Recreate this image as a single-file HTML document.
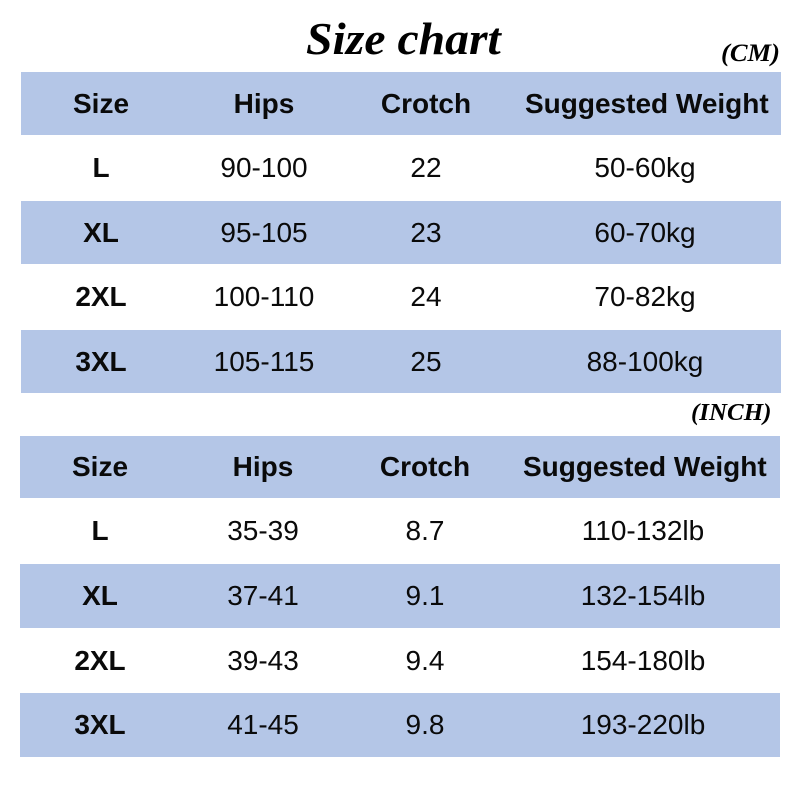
<!DOCTYPE html>
<html>
<head>
<meta charset="utf-8">
<style>
  html, body { margin:0; padding:0; background:#fff; }
  body { width:800px; height:800px; position:relative; overflow:hidden; font-family:"Liberation Sans", Arial, sans-serif; color:#0a0a0a; }
  .band { position:absolute; left:21px; width:760px; background:#b4c6e7; }
  .row { position:absolute; left:0; width:800px; }
  .c { position:absolute; top:0; width:240px; margin-left:-120px; text-align:center; font-size:28px; white-space:nowrap; }
  .b { font-weight:bold; }
  .hdr .c { font-weight:bold; }
  .script { position:absolute; font-family:"Liberation Serif", "DejaVu Serif", serif; font-style:italic; font-weight:bold; white-space:nowrap; color:#000; }
</style>
</head>
<body>
  <div class="script" style="left:306px; top:14px; font-size:45px; line-height:50px; transform:scaleX(1.06); transform-origin:left top;">Size chart</div>
  <div class="script" style="left:721px; top:40px; font-size:25px; line-height:28px; transform:scaleX(1.06); transform-origin:left top;">(CM)</div>
  <div class="script" style="left:691px; top:399px; font-size:24px; line-height:28px; transform:scaleX(1.04); transform-origin:left top;">(INCH)</div>

  <!-- top table bands -->
  <div class="band" style="top:72px; height:63px;"></div>
  <div class="band" style="top:201px; height:63px;"></div>
  <div class="band" style="top:330px; height:63px;"></div>
  <!-- bottom table bands -->
  <div class="band" style="left:20px; top:436px; height:62px;"></div>
  <div class="band" style="left:20px; top:564px; height:64px;"></div>
  <div class="band" style="left:20px; top:693px; height:64px;"></div>

  <!-- top table rows -->
  <div class="row hdr" style="top:72px; height:63px; line-height:63px;">
    <div class="c" style="left:101px;">Size</div>
    <div class="c" style="left:264px;">Hips</div>
    <div class="c" style="left:426px;">Crotch</div>
    <div class="c" style="left:645px;">Suggested Weight</div>
  </div>
  <div class="row" style="top:135px; height:66px; line-height:66px;">
    <div class="c b" style="left:101px;">L</div>
    <div class="c" style="left:264px;">90-100</div>
    <div class="c" style="left:426px;">22</div>
    <div class="c" style="left:645px;">50-60kg</div>
  </div>
  <div class="row" style="top:201px; height:63px; line-height:63px;">
    <div class="c b" style="left:101px;">XL</div>
    <div class="c" style="left:264px;">95-105</div>
    <div class="c" style="left:426px;">23</div>
    <div class="c" style="left:645px;">60-70kg</div>
  </div>
  <div class="row" style="top:264px; height:66px; line-height:66px;">
    <div class="c b" style="left:101px;">2XL</div>
    <div class="c" style="left:264px;">100-110</div>
    <div class="c" style="left:426px;">24</div>
    <div class="c" style="left:645px;">70-82kg</div>
  </div>
  <div class="row" style="top:330px; height:63px; line-height:63px;">
    <div class="c b" style="left:101px;">3XL</div>
    <div class="c" style="left:264px;">105-115</div>
    <div class="c" style="left:426px;">25</div>
    <div class="c" style="left:645px;">88-100kg</div>
  </div>

  <!-- bottom table rows -->
  <div class="row hdr" style="top:436px; height:62px; line-height:62px;">
    <div class="c" style="left:100px;">Size</div>
    <div class="c" style="left:263px;">Hips</div>
    <div class="c" style="left:425px;">Crotch</div>
    <div class="c" style="left:643px;">Suggested Weight</div>
  </div>
  <div class="row" style="top:498px; height:66px; line-height:66px;">
    <div class="c b" style="left:100px;">L</div>
    <div class="c" style="left:263px;">35-39</div>
    <div class="c" style="left:425px;">8.7</div>
    <div class="c" style="left:643px;">110-132lb</div>
  </div>
  <div class="row" style="top:564px; height:64px; line-height:64px;">
    <div class="c b" style="left:100px;">XL</div>
    <div class="c" style="left:263px;">37-41</div>
    <div class="c" style="left:425px;">9.1</div>
    <div class="c" style="left:643px;">132-154lb</div>
  </div>
  <div class="row" style="top:628px; height:65px; line-height:65px;">
    <div class="c b" style="left:100px;">2XL</div>
    <div class="c" style="left:263px;">39-43</div>
    <div class="c" style="left:425px;">9.4</div>
    <div class="c" style="left:643px;">154-180lb</div>
  </div>
  <div class="row" style="top:693px; height:64px; line-height:64px;">
    <div class="c b" style="left:100px;">3XL</div>
    <div class="c" style="left:263px;">41-45</div>
    <div class="c" style="left:425px;">9.8</div>
    <div class="c" style="left:643px;">193-220lb</div>
  </div>
</body>
</html>
